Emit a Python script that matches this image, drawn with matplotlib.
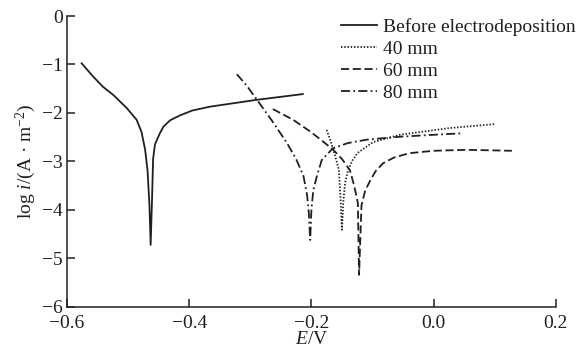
import numpy as np
import matplotlib
matplotlib.use('Agg')
import matplotlib.pyplot as plt

plt.rcParams['font.family'] = ['Liberation Serif', 'DejaVu Serif']
plt.rcParams['mathtext.fontset'] = 'custom'
plt.rcParams['mathtext.rm'] = 'Liberation Serif'
plt.rcParams['mathtext.it'] = 'Liberation Serif:italic'

# Polarization curves (E in V, log i)
E_before = [-0.576, -0.557, -0.541, -0.524, -0.502, -0.486, -0.478, -0.472, -0.468,
            -0.465, -0.463, -0.461, -0.459, -0.456, -0.448, -0.442, -0.431, -0.415,
            -0.395, -0.366, -0.290, -0.214]
log_before = [-0.975, -1.25, -1.46, -1.63, -1.90, -2.14, -2.39, -2.76, -3.2,
              -3.9, -4.72, -3.9, -2.95, -2.65, -2.42, -2.28, -2.15, -2.05,
              -1.95, -1.87, -1.73, -1.61]

E_40 = [-0.175, -0.168, -0.162, -0.158, -0.155, -0.152, -0.150, -0.148, -0.145,
        -0.140, -0.133, -0.125, -0.099, -0.055, 0.027, 0.100]
log_40 = [-2.35, -2.6, -2.85, -3.03, -3.18, -3.86, -4.41, -3.86, -3.45,
          -3.18, -2.98, -2.83, -2.6, -2.45, -2.31, -2.23]

E_60 = [-0.263, -0.230, -0.200, -0.165, -0.150, -0.137, -0.130, -0.124, -0.123,
        -0.122, -0.120, -0.118, -0.112, -0.104, -0.095, -0.083, -0.065, -0.040,
        0.0, 0.054, 0.128]
log_60 = [-1.92, -2.14, -2.40, -2.75, -2.95, -3.18, -3.5, -3.86, -4.6,
          -5.34, -4.6, -3.9, -3.6, -3.4, -3.2, -3.04, -2.92, -2.83,
          -2.78, -2.76, -2.78]

E_80 = [-0.322, -0.305, -0.289, -0.265, -0.240, -0.225, -0.213, -0.207, -0.204,
        -0.202, -0.200, -0.197, -0.191, -0.183, -0.165, -0.140, -0.109, -0.055,
        0.0, 0.046]
log_80 = [-1.20, -1.45, -1.73, -2.15, -2.62, -2.95, -3.3, -3.7, -4.1,
          -4.62, -4.0, -3.6, -3.3, -2.97, -2.73, -2.62, -2.55, -2.49,
          -2.45, -2.42]

labels = ['Before electrodeposition', '40 mm', '60 mm', '80 mm']

fig = plt.figure(figsize=(5.87, 3.56), dpi=100)
ax = fig.add_axes([0.114, 0.138, 0.833, 0.817])

c = '#231f20'
ax.plot(E_before, log_before, '-', color=c, lw=1.3, label=labels[0])
ax.plot(E_40, log_40, color=c, lw=1.3, ls=(0, (0.8, 1.0)), label=labels[1])
ax.plot(E_60, log_60, color=c, lw=1.3, ls=(0, (4.5, 2.0)), label=labels[2])
ax.plot(E_80, log_80, color=c, lw=1.3, ls=(0, (5, 1.8, 1, 1.8)), label=labels[3])

ax.set_xlim(-0.6, 0.2)
ax.set_ylim(-6, 0)
ax.set_xticks([-0.6, -0.4, -0.2, 0.0, 0.2])
ax.set_xticklabels(['\u22120.6', '\u22120.4', '\u22120.2', '0.0', '0.2'])
ax.set_yticks([0, -1, -2, -3, -4, -5, -6])
ax.set_yticklabels(['0', '\u22121', '\u22122', '\u22123', '\u22124', '\u22125', '\u22126'])

for s in ['top', 'right']:
    ax.spines[s].set_visible(False)
for s in ['left', 'bottom']:
    ax.spines[s].set_linewidth(1.1)
    ax.spines[s].set_color(c)
ax.tick_params(direction='in', length=6, width=1.1, colors=c, labelsize=14)
ax.tick_params(axis='x', pad=6)
ax.tick_params(axis='y', pad=3)

ax.set_xlabel('$\\mathit{E}$/V', fontsize=14, color=c, labelpad=-1)
ax.set_ylabel('log $\\mathit{i}$/(A \u00b7 m$^{\\mathregular{-2}}$)', fontsize=14,
              color=c, labelpad=3)

ax.legend(loc='upper left', bbox_to_anchor=(0.545, 1.02), frameon=False,
          fontsize=14, handlelength=1.85, handletextpad=0.28, labelspacing=0.22,
          borderaxespad=0, labelcolor=c)

fig.savefig('out.png', dpi=100)
